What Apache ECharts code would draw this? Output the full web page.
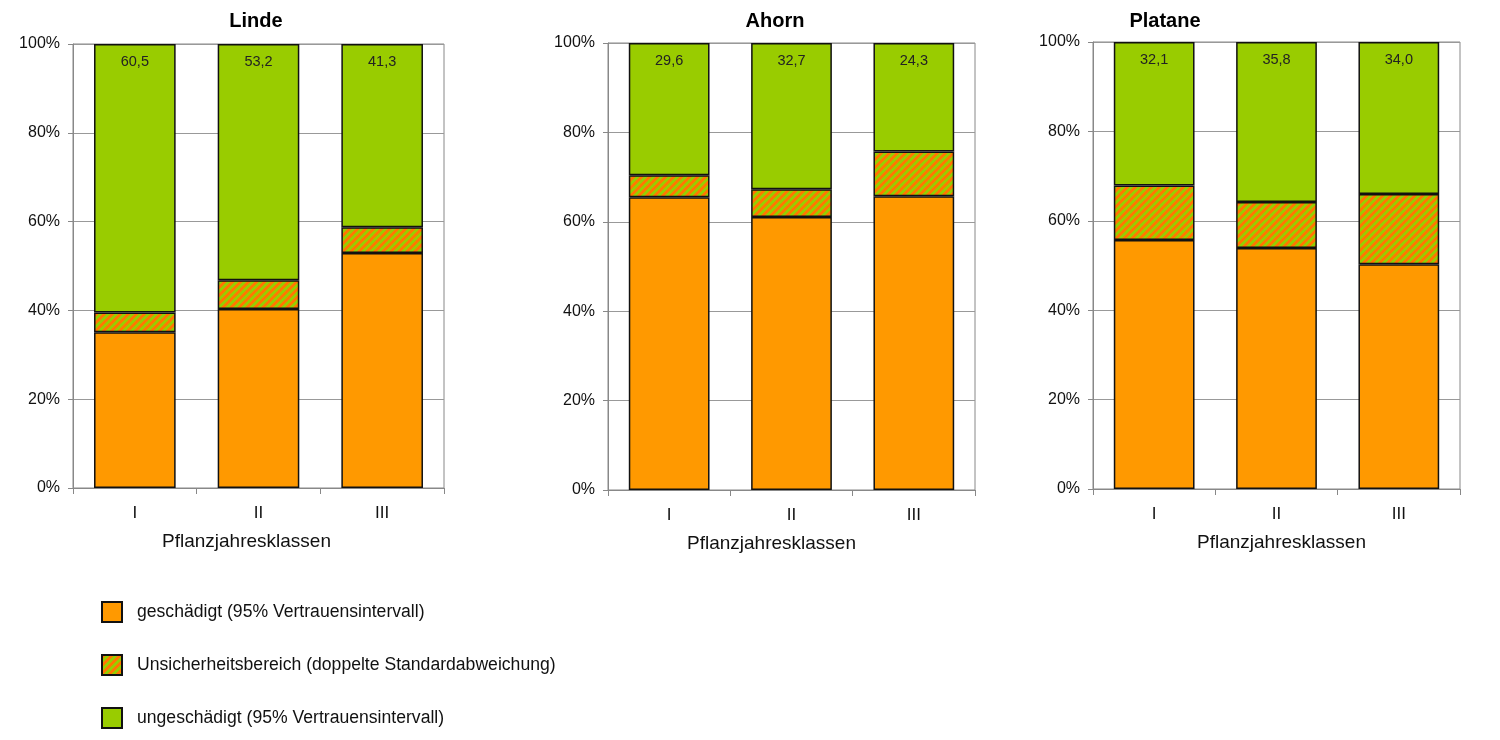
<!DOCTYPE html>
<html>
<head>
<meta charset="utf-8">
<script src="https://cdn.jsdelivr.net/npm/echarts@6/dist/echarts.min.js"></script>
<style>
  html, body { margin: 0; padding: 0; background: #fff; }
  #chart { width: 1500px; height: 740px; }
</style>
</head>
<body>
<div id="chart"></div>
<script>
// Daten
const categories = ["I", "II", "III"]
const panelTitles = ["Linde", "Ahorn", "Platane"]
const yTicks = [0, 20, 40, 60, 80, 100]

const lindeDamaged = [35.1, 40.3, 52.9]
const lindeUncertain = [4.4, 6.5, 5.8]
const lindeUndamaged = [60.5, 53.2, 41.3]

const ahornDamaged = [65.5, 61.1, 65.7]
const ahornUncertain = [4.9, 6.2, 10.0]
const ahornUndamaged = [29.6, 32.7, 24.3]

const plataneDamaged = [55.7, 53.9, 50.3]
const plataneUncertain = [12.2, 10.3, 15.7]
const plataneUndamaged = [32.1, 35.8, 34.0]

const seriesNames = [
  "geschädigt (95% Vertrauensintervall)",
  "Unsicherheitsbereich (doppelte Standardabweichung)",
  "ungeschädigt (95% Vertrauensintervall)",
]

const panels = [
  [lindeDamaged, lindeUncertain, lindeUndamaged],
  [ahornDamaged, ahornUncertain, ahornUndamaged],
  [plataneDamaged, plataneUncertain, plataneUndamaged],
]

const ORANGE = "#FF9900"
const GREEN = "#99CC00"
const FONT = "Liberation Sans"

// Schraffur (diagonal, orange/grün)
const makeHatch = () => {
  const s = 8
  const c = document.createElement("canvas")
  c.width = s
  c.height = s
  const ctx = c.getContext("2d")
  const img = ctx.createImageData(s, s)
  for (let y = 0; y < s; y++) {
    for (let x = 0; x < s; x++) {
      const i = (y * s + x) * 4
      const o = (x + y) % s < 4
      img.data[i] = o ? 255 : 153
      img.data[i + 1] = o ? 120 : 204
      img.data[i + 2] = 0
      img.data[i + 3] = 255
    }
  }
  ctx.putImageData(img, 0, 0)
  return c
}
const hatch = { image: makeHatch(), repeat: "repeat" }

// Layout der drei Diagramme
const grids = [
  { left: 73, top: 44, width: 371, height: 444 },
  { left: 608, top: 43, width: 367, height: 447 },
  { left: 1093, top: 42, width: 367, height: 447 },
]
const titleX = [251, 770, 1160]
const namePad = [[0, 24, 0, 0], [0, 40, 0, 0], [0, 0, 0, 10]]

const fmt = (v) => v.toFixed(1).replace(".", ",")

const option = {
  animation: false,
  textStyle: { fontFamily: FONT },
  title: panelTitles.map((t, i) => ({
    text: t,
    left: titleX[i],
    top: 6,
    textAlign: "center",
    textStyle: { fontFamily: FONT, fontSize: 20, fontWeight: "bold", color: "#000" },
  })),
  legend: {
    data: seriesNames,
    orient: "vertical",
    left: 101,
    top: 601,
    height: 200,
    padding: 0,
    itemWidth: 20,
    itemHeight: 20,
    itemGap: 31,
    icon: "rect",
    selectedMode: false,
    textStyle: { fontFamily: FONT, fontSize: 17.6, color: "#111", padding: [0, 0, 0, 10] },
  },
  grid: grids.map((g) => ({
    ...g,
    show: true,
    borderColor: "#888",
    borderWidth: 1,
    containLabel: false,
  })),
  xAxis: grids.map((g, i) => ({
    type: "category",
    gridIndex: i,
    data: categories,
    name: "Pflanzjahresklassen",
    nameLocation: "middle",
    nameGap: 44,
    nameTextStyle: { fontFamily: FONT, fontSize: 19, color: "#111", padding: namePad[i] },
    axisLine: { lineStyle: { color: "#888", width: 1 } },
    axisTick: { show: true, alignWithLabel: false, length: 6, lineStyle: { color: "#888" } },
    axisLabel: { fontFamily: FONT, fontSize: 17, color: "#111", margin: 17 },
  })),
  yAxis: grids.map((g, i) => ({
    type: "value",
    gridIndex: i,
    min: yTicks[0],
    max: yTicks[yTicks.length - 1],
    interval: yTicks[1] - yTicks[0],
    axisLine: { show: true, lineStyle: { color: "#888", width: 1 } },
    axisTick: { show: true, length: 5, lineStyle: { color: "#888" } },
    splitLine: { show: true, lineStyle: { color: "#999", width: 1 } },
    axisLabel: { formatter: "{value}%", fontFamily: FONT, fontSize: 16, color: "#111", margin: 13 },
  })),
  series: [],
}

panels.forEach((vals, p) => {
  const colors = [ORANGE, hatch, GREEN]
  vals.forEach((data, k) => {
    option.series.push({
      name: seriesNames[k],
      type: "bar",
      xAxisIndex: p,
      yAxisIndex: p,
      stack: "s" + p,
      data: data,
      barWidth: "66%",
      itemStyle: { color: colors[k], borderColor: "#111", borderWidth: 1.5 },
      emphasis: { disabled: true },
      label: k === 2
        ? {
            show: true,
            position: "insideTop",
            distance: 10,
            formatter: (d) => fmt(d.value),
            fontFamily: FONT,
            fontSize: 14.5,
            color: "#222",
          }
        : { show: false },
    })
  })
})

const myChart = echarts.init(document.getElementById("chart"), null, { renderer: "canvas" })
myChart.setOption(option)
</script>
</body>
</html>
